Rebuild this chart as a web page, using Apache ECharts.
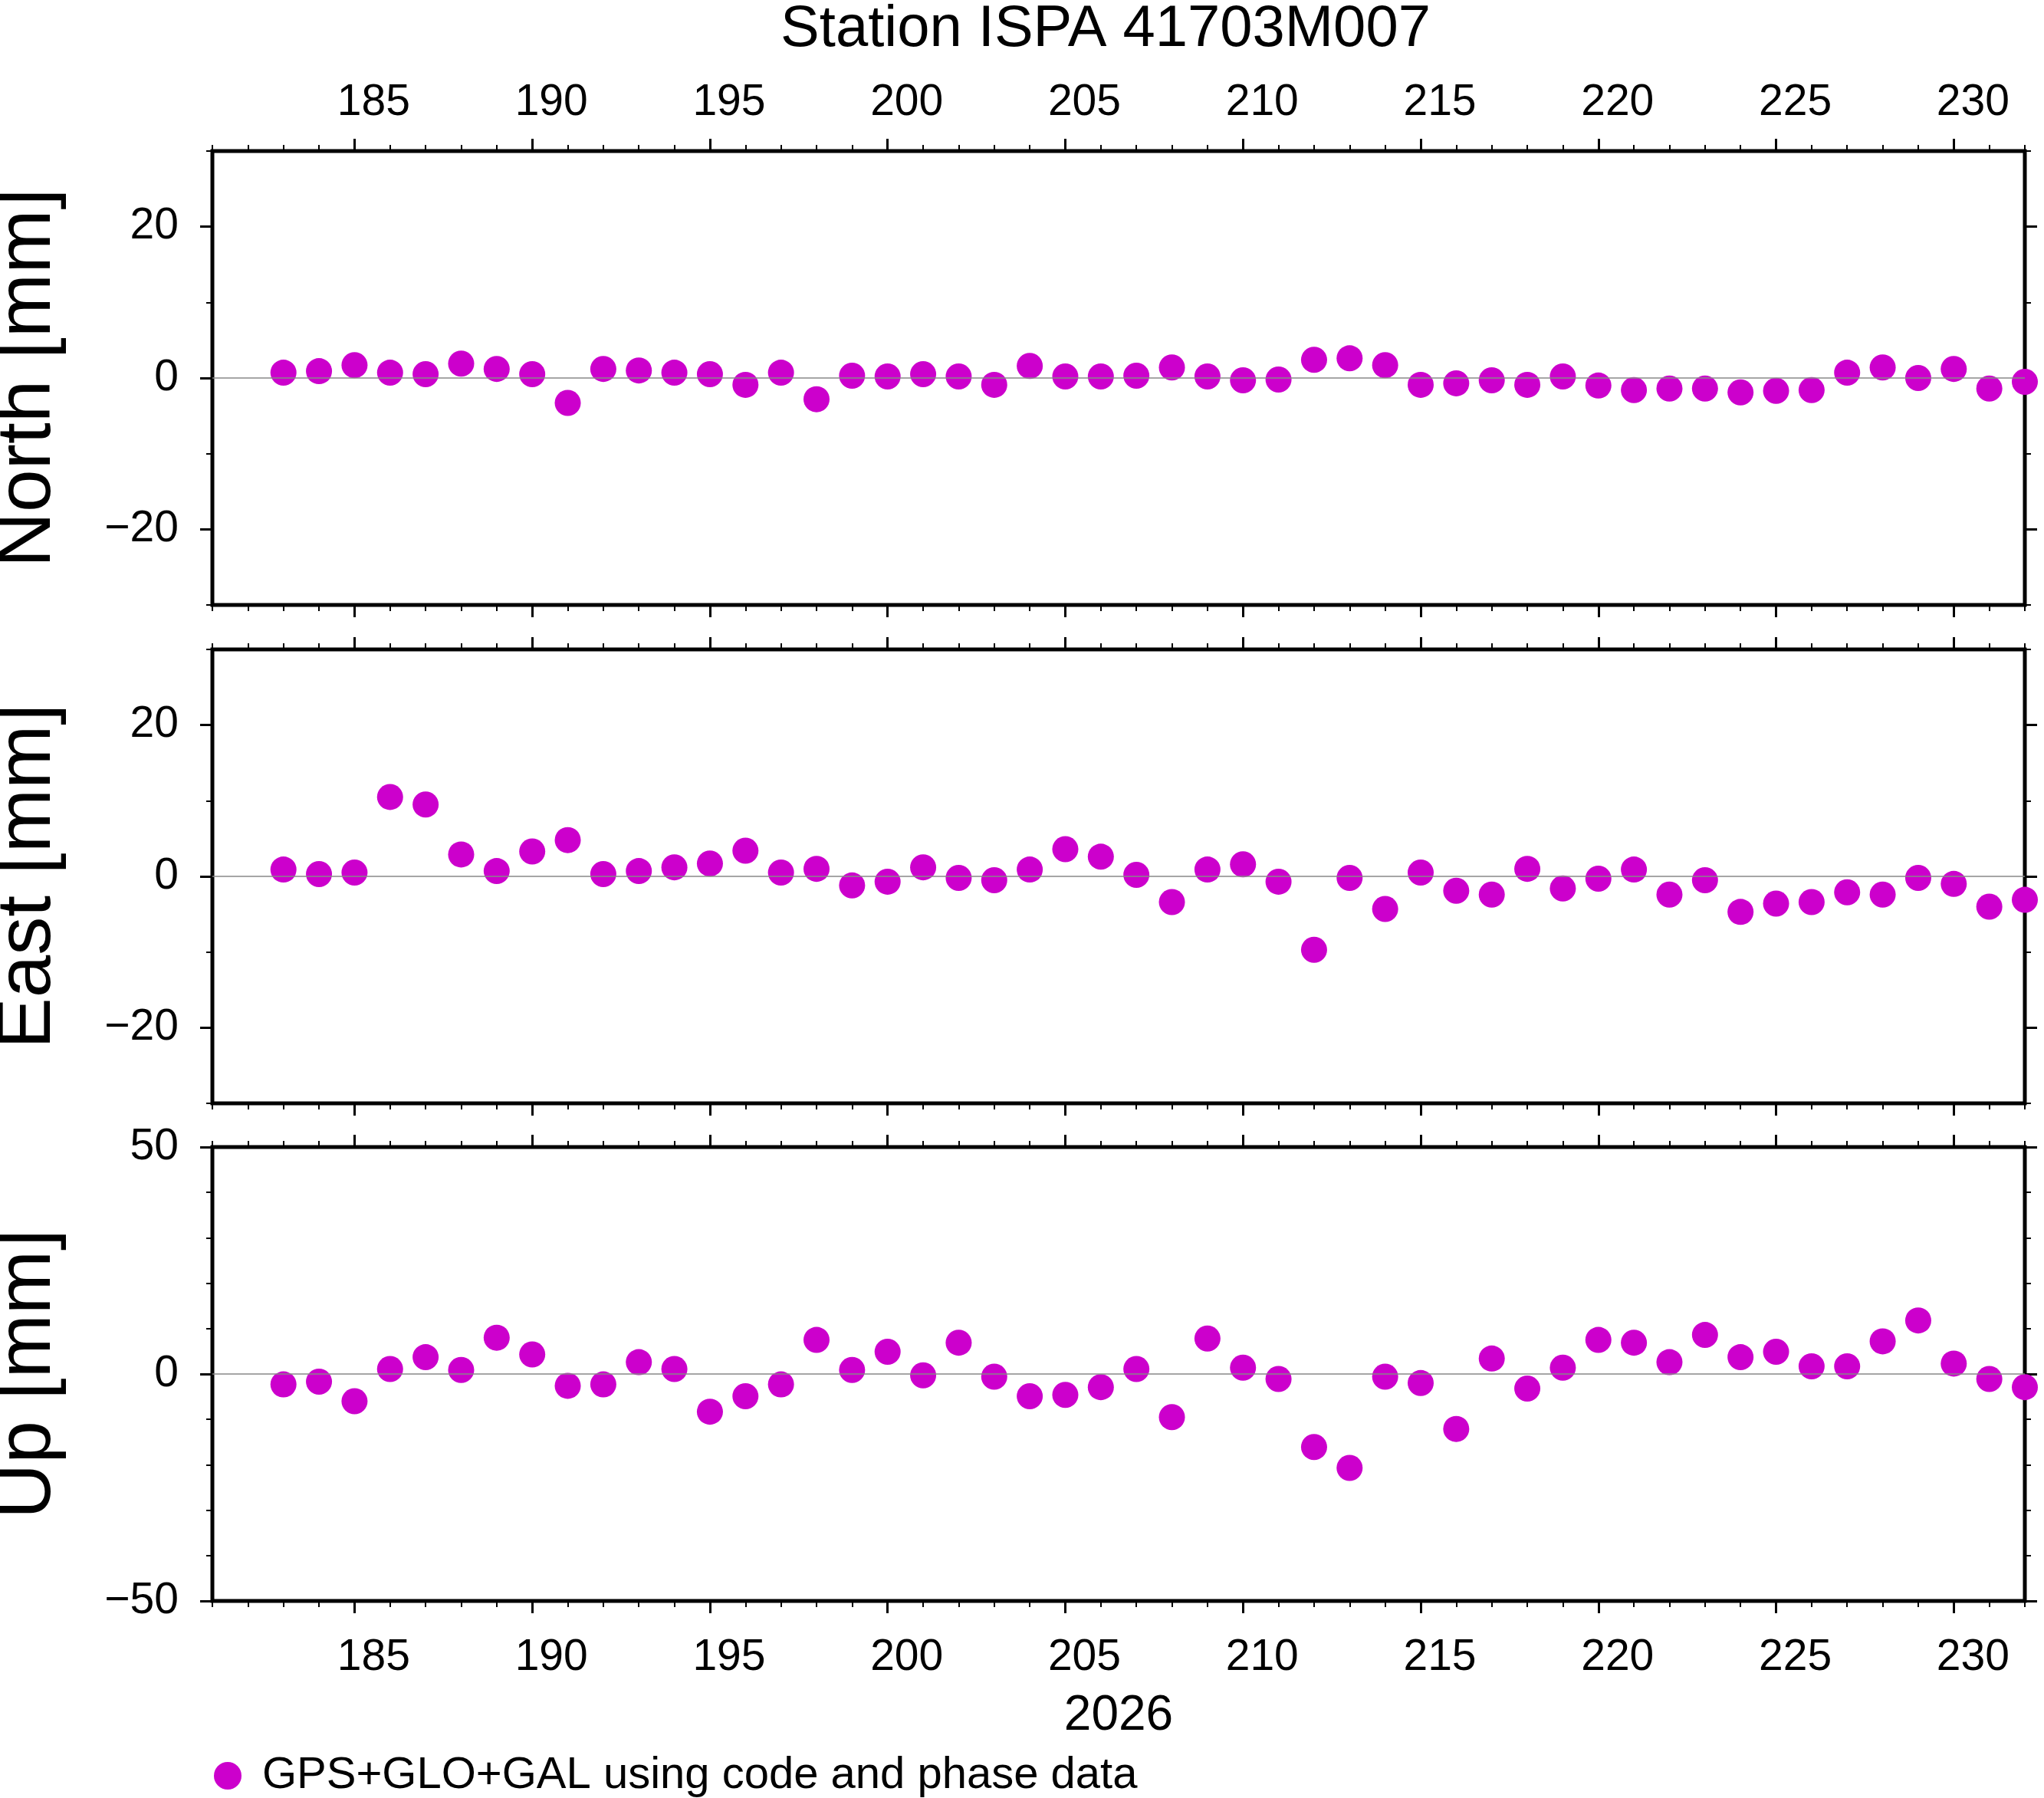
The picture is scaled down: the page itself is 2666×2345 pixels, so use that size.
<!DOCTYPE html>
<html><head><meta charset="utf-8">
<script src="https://cdn.jsdelivr.net/npm/echarts@6/dist/echarts.min.js"></script>
<style>html,body{margin:0;padding:0;background:#fff}#c{width:2666px;height:2345px}</style>
</head><body><div id="c"></div>
<script>
const days = [];
for (let d = 183; d <= 232; d++) days.push(d);
const north = [0.7,0.9,1.7,0.7,0.5,1.9,1.2,0.5,-3.3,1.2,1.0,0.7,0.5,-0.9,0.7,-2.8,0.3,0.2,0.5,0.2,-0.9,1.6,0.2,0.2,0.3,1.4,0.2,-0.3,-0.2,2.4,2.6,1.7,-0.9,-0.7,-0.3,-0.9,0.2,-1.0,-1.6,-1.4,-1.4,-1.9,-1.7,-1.6,0.7,1.4,0.0,1.2,-1.4,-0.5];
const east = [0.9,0.3,0.5,10.5,9.5,2.9,0.7,3.3,4.8,0.3,0.7,1.2,1.7,3.4,0.5,1.0,-1.2,-0.7,1.2,-0.2,-0.5,0.9,3.6,2.6,0.2,-3.4,0.9,1.6,-0.7,-9.7,-0.2,-4.3,0.5,-1.9,-2.4,1.0,-1.6,-0.3,0.9,-2.4,-0.5,-4.7,-3.6,-3.4,-2.1,-2.4,-0.2,-1.0,-4.0,-3.1];
const up = [-2.3,-1.7,-6.0,1.1,3.7,0.9,8.0,4.3,-2.6,-2.3,2.6,1.1,-8.3,-4.9,-2.3,7.5,0.9,4.9,-0.3,6.9,-0.6,-4.9,-4.6,-2.9,1.1,-9.5,7.8,1.4,-1.1,-16.1,-20.7,-0.6,-2.0,-12.1,3.4,-3.2,1.4,7.5,6.9,2.6,8.6,3.7,4.9,1.7,1.7,7.2,11.8,2.3,-1.1,-2.9];
const xTicks = [185,190,195,200,205,210,215,220,225,230];
const panelNames = ['North [mm]','East [mm]','Up [mm]'];
const panelData = [north, east, up];
const yRanges = [[-30,30],[-30,30],[-50,50]];
const yMajor = [[-20,0,20],[-20,0,20],[-50,0,50]];
const legendLabel = 'GPS+GLO+GAL using code and phase data';
const titleText = 'Station ISPA 41703M007';
const yearText = '2026';

const FONT = 'Liberation Sans';
const tops = [197, 847, 1496];
const fmt = v => String(v).replace('-', '\u2212');
const grids = [], xAxes = [], yAxes = [], series = [];
for (let i = 0; i < 3; i++) {
  grids.push({left: 277, width: 2364, top: tops[i], height: 592, containLabel: false, outerBoundsMode: 'none', show: true, borderColor: '#000', borderWidth: 5, backgroundColor: 'transparent'});
  const base = {type: 'value', gridIndex: i, min: 181, max: 232, splitLine: {show: false}, axisLine: {show: false, onZero: false}};
  for (const pos of ['bottom', 'top']) {
    const showLbl = (pos === 'bottom' && i === 2) || (pos === 'top' && i === 0);
    xAxes.push(Object.assign({}, base, {position: pos,
      axisTick: {show: true, inside: false, length: 16, lineStyle: {color: '#000', width: 3}, customValues: xTicks},
      axisLabel: {show: showLbl, customValues: xTicks, fontSize: 57, fontFamily: FONT, color: '#000', margin: pos === 'top' ? 34 : 46, padding: [0, 0, 0, 50]},
      name: (pos === 'bottom' && i === 2) ? yearText : '', nameLocation: 'middle', nameGap: 118,
      nameTextStyle: {fontSize: 64, fontFamily: FONT, color: '#000'}}));
    xAxes.push(Object.assign({}, base, {position: pos, interval: 1,
      axisTick: {show: true, length: 8, lineStyle: {color: '#000', width: 2}},
      axisLabel: {show: false}}));
  }
  const yb = {type: 'value', gridIndex: i, min: yRanges[i][0], max: yRanges[i][1], splitLine: {show: false}, axisLine: {show: false, onZero: false}};
  for (const pos of ['left', 'right']) {
    yAxes.push(Object.assign({}, yb, {position: pos,
      axisTick: {show: true, length: 16, lineStyle: {color: '#000', width: 3}, customValues: yMajor[i]},
      axisLabel: {show: pos === 'left', customValues: yMajor[i], formatter: fmt, fontSize: 57, fontFamily: FONT, color: '#000', margin: 44},
      name: pos === 'left' ? panelNames[i] : '', nameLocation: 'middle', nameGap: 190, nameRotate: 90,
      nameTextStyle: {fontSize: 100, fontFamily: FONT, color: '#000'}}));
    yAxes.push(Object.assign({}, yb, {position: pos, interval: 10,
      axisTick: {show: true, length: 8, lineStyle: {color: '#000', width: 2}},
      axisLabel: {show: false}}));
  }
  series.push({type: 'scatter', name: legendLabel, xAxisIndex: i * 4, yAxisIndex: i * 4, clip: true,
    symbolSize: 34, itemStyle: {color: '#cc00cc', opacity: 1},
    data: days.map((d, k) => [d, panelData[i][k]]),
    markLine: {silent: true, symbol: 'none', label: {show: false}, lineStyle: {color: '#888', width: 1.5, type: 'solid'}, data: [{yAxis: 0}], animation: false}});
}
const chart = echarts.init(document.getElementById('c'));
chart.setOption({
  animation: false,
  backgroundColor: '#fff',
  grid: grids, xAxis: xAxes, yAxis: yAxes, series: series,
  title: {text: titleText, left: 1437, top: -4, textAlign: 'center', textStyle: {fontSize: 76, fontWeight: 'normal', fontFamily: FONT, color: '#000'}},
  legend: {data: [legendLabel], left: 274, top: 2282, icon: 'circle', itemWidth: 36, itemHeight: 36, itemGap: 20,
    textStyle: {fontSize: 58, fontFamily: FONT, color: '#000', padding: [0, 0, 0, 22]}}
});
</script></body></html>
